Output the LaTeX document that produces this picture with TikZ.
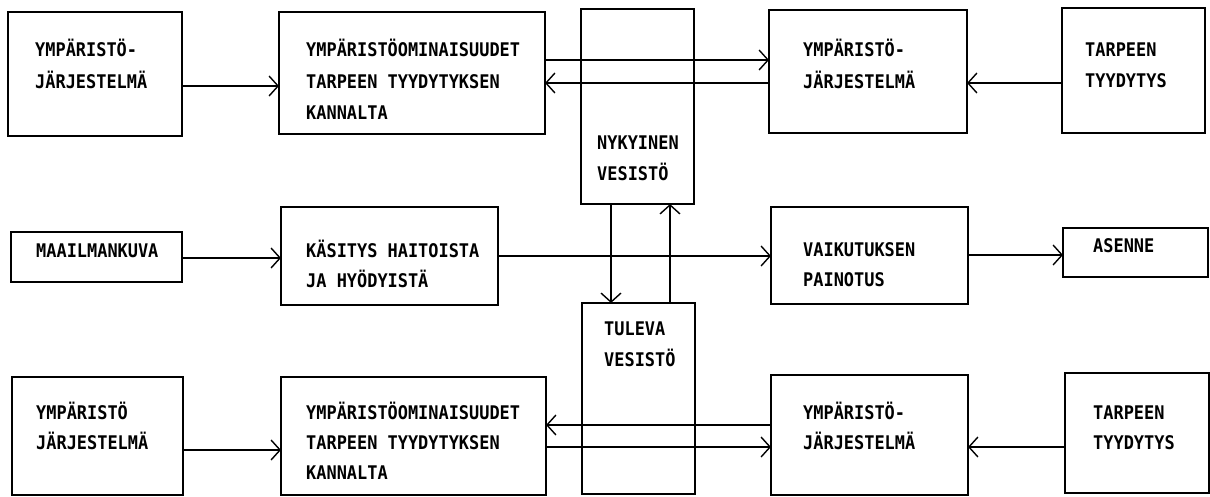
\documentclass[tikz,border=0pt]{standalone}
\usepackage{fontspec}
\newfontfamily\diafont[FakeStretch=0.9]{DejaVu Sans Mono}
\usetikzlibrary{arrows.meta}
\begin{document}
\begin{tikzpicture}[x=1pt,y=-1pt,
  box/.style={draw, line width=1.6pt, inner sep=0pt, outer sep=0pt, anchor=north west},
  txt/.style={inner sep=0pt, anchor=base west, font=\diafont\fontsize{18.8}{20}\selectfont\bfseries},
  arr/.style={line width=1.4pt, -{Straight Barb[length=9pt,width=20pt,line width=1.4pt]}}]
\useasboundingbox (0,0) rectangle (1210,497);
% boxes
\node[box, minimum width=174pt, minimum height=124pt] (A1) at (8,12) {};
\node[box, minimum width=266pt, minimum height=122pt] (B1) at (279,12) {};
\node[box, minimum width=113pt, minimum height=195pt] (NY) at (581,9) {};
\node[box, minimum width=198pt, minimum height=123pt] (C1) at (769,10) {};
\node[box, minimum width=143pt, minimum height=125pt] (D1) at (1062,8) {};
\node[box, minimum width=171pt, minimum height=50pt] (MA) at (11,232) {};
\node[box, minimum width=217pt, minimum height=98pt] (KA) at (281,207) {};
\node[box, minimum width=197pt, minimum height=97pt] (VA) at (771,207) {};
\node[box, minimum width=145pt, minimum height=49pt] (AS) at (1063,228) {};
\node[box, minimum width=113pt, minimum height=191pt] (TU) at (582,303) {};
\node[box, minimum width=171pt, minimum height=118pt] (A3) at (12,377) {};
\node[box, minimum width=265pt, minimum height=118pt] (B3) at (281,377) {};
\node[box, minimum width=197pt, minimum height=120pt] (C3) at (771,375) {};
\node[box, minimum width=144pt, minimum height=120pt] (D3) at (1065,373) {};
% texts
\node[txt] (A1a) at (35,57) {YMPÄRISTÖ-};
\node[txt] (A1b) at (35,89) {JÄRJESTELMÄ};
\node[txt] (B1a) at (306,57) {YMPÄRISTÖOMINAISUUDET};
\node[txt] (B1b) at (306,89) {TARPEEN TYYDYTYKSEN};
\node[txt] (B1c) at (306,120) {KANNALTA};
\node[txt] (NYa) at (597,150) {NYKYINEN};
\node[txt] (NYb) at (597,181) {VESISTÖ};
\node[txt] (C1a) at (803,57) {YMPÄRISTÖ-};
\node[txt] (C1b) at (803,89) {JÄRJESTELMÄ};
\node[txt] (D1a) at (1085,57) {TARPEEN};
\node[txt] (D1b) at (1085,88) {TYYDYTYS};
\node[txt] (MAa) at (36,257) {MAAILMANKUVA};
\node[txt] (KAa) at (306,257) {KÄSITYS HAITOISTA};
\node[txt] (KAb) at (306,287) {JA HYÖDYISTÄ};
\node[txt] (VAa) at (803,256) {VAIKUTUKSEN};
\node[txt] (VAb) at (803,286) {PAINOTUS};
\node[txt] (ASa) at (1093,252) {ASENNE};
\node[txt] (TUa) at (604,335) {TULEVA};
\node[txt] (TUb) at (604,366) {VESISTÖ};
\node[txt] (A3a) at (36,419) {YMPÄRISTÖ};
\node[txt] (A3b) at (36,449) {JÄRJESTELMÄ};
\node[txt] (B3a) at (306,419) {YMPÄRISTÖOMINAISUUDET};
\node[txt] (B3b) at (306,449) {TARPEEN TYYDYTYKSEN};
\node[txt] (B3c) at (306,479) {KANNALTA};
\node[txt] (C3a) at (803,419) {YMPÄRISTÖ-};
\node[txt] (C3b) at (803,449) {JÄRJESTELMÄ};
\node[txt] (D3a) at (1093,419) {TARPEEN};
\node[txt] (D3b) at (1093,449) {TYYDYTYS};
% arrows
\draw[arr] (A1.east |- 0,86) -- (B1.west |- 0,86);
\draw[arr] (B1.east |- 0,60) -- (C1.west |- 0,60);
\draw[arr] (C1.west |- 0,83) -- (B1.east |- 0,83);
\draw[arr] (D1.west |- 0,83) -- (C1.east |- 0,83);
\draw[arr] (MA.east |- 0,258) -- (KA.west |- 0,258);
\draw[arr] (KA.east |- 0,256) -- (VA.west |- 0,256);
\draw[arr] (VA.east |- 0,255) -- (AS.west |- 0,255);
\draw[arr] (NY.south -| 611,0) -- (TU.north -| 611,0);
\draw[arr] (TU.north -| 670,0) -- (NY.south -| 670,0);
\draw[arr] (A3.east |- 0,450) -- (B3.west |- 0,450);
\draw[arr] (C3.west |- 0,425) -- (B3.east |- 0,425);
\draw[arr] (B3.east |- 0,447) -- (C3.west |- 0,447);
\draw[arr] (D3.west |- 0,447) -- (C3.east |- 0,447);
\end{tikzpicture}
\end{document}
